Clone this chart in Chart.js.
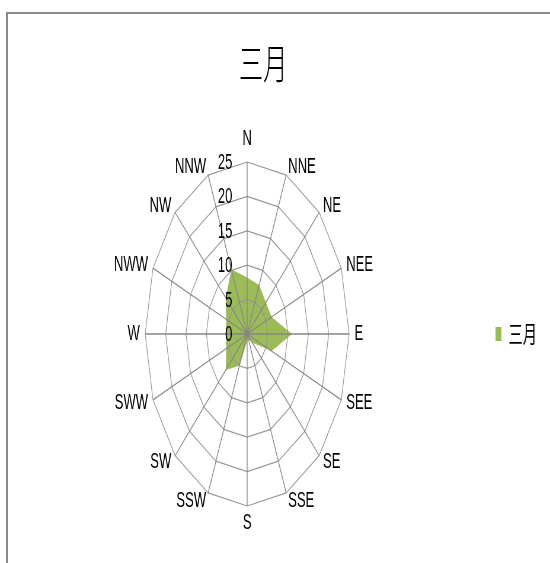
<!DOCTYPE html>
<html>
<head>
<meta charset="utf-8">
<script src="https://cdn.jsdelivr.net/npm/chart.js@4.4.1/dist/chart.umd.min.js"></script>
<style>
html, body { margin: 0; padding: 0; background: #fff; overflow: hidden; }
#frame { position: absolute; left: 6px; top: 12px; width: 700px; height: 700px;
  border-top: 2px solid #898989; border-left: 2px solid #898989; }
#wrap { position: absolute; left: 0; top: 0; width: 928px; height: 563px;
  transform: scaleX(0.59267); transform-origin: 0 0; }
</style>
</head>
<body>
<div id="frame"></div>
<div id="wrap"><canvas id="chart" width="928" height="563"></canvas></div>
<script>
// wind directions, clockwise from north
const directions = ["N","NNE","NE","NEE","E","SEE","SE","SSE","S","SSW","SW","SWW","W","NWW","NW","NNW"];
const marchValues = [8.2, 7.7, 6.5, 6.5, 11, 6.5, 1.8, 0.8, 1, 5, 7.4, 5.6, 5.2, 5.6, 7.4, 10.2];
const tickValues = [0, 5, 10, 15, 20, 25];
const seriesName = "三月";

const labelFont = '22px "Liberation Sans", Arial, sans-serif';

// title is drawn by hand so it can sit a bit right of the plot centre, like the original
const chartTitle = {
  id: "chartTitle",
  afterDraw(chart) {
    const ctx = chart.ctx;
    ctx.save();
    ctx.font = '300 41px "Noto Sans CJK SC"';
    ctx.fillStyle = "#000";
    ctx.textAlign = "center";
    ctx.textBaseline = "middle";
    ctx.fillText(seriesName, 444, 63);
    ctx.restore();
  }
};

// radial tick numbers left of the north axis, direction names centred on their spoke (Excel style)
const axisText = {
  id: "axisText",
  afterDraw(chart) {
    const r = chart.scales.r;
    const ctx = chart.ctx;
    ctx.save();
    ctx.font = labelFont;
    ctx.fillStyle = "#000";
    ctx.textAlign = "right";
    ctx.textBaseline = "middle";
    tickValues.forEach(v => {
      ctx.fillText(String(v), r.xCenter - 25, r.yCenter - r.getDistanceFromCenterForValue(v) + 1);
    });
    const outer = r.getDistanceFromCenterForValue(25);
    directions.forEach((name, i) => {
      const deg = i * 360 / directions.length;
      let pad = 9;
      if (deg === 0) { ctx.textAlign = "center"; ctx.textBaseline = "bottom"; pad = 12; }
      else if (deg === 180) { ctx.textAlign = "center"; ctx.textBaseline = "top"; pad = 6; }
      else { ctx.textAlign = deg < 180 ? "left" : "right"; ctx.textBaseline = "middle"; }
      const p = r.getPointPosition(i, outer + pad);
      ctx.fillText(name, p.x, p.y);
    });
    ctx.restore();
  }
};

new Chart(document.getElementById("chart"), {
  type: "radar",
  data: {
    labels: directions,
    datasets: [{
      label: seriesName,
      data: marchValues,
      backgroundColor: "#9bbb59",
      borderColor: "#9bbb59",
      borderWidth: 0,
      pointRadius: 0,
      pointHoverRadius: 0,
      fill: true
    }]
  },
  options: {
    responsive: false,
    animation: false,
    layout: { padding: { left: 9, right: 12, top: 162, bottom: 57 } },
    plugins: {
      title: { display: false },
      legend: {
        position: "right",
        labels: {
          color: "#000",
          boxWidth: 10,
          boxHeight: 14,
          font: { family: '"Noto Sans CJK SC"', size: 24 }
        }
      },
      tooltip: { enabled: false }
    },
    scales: {
      r: {
        min: 0,
        max: 25,
        ticks: { stepSize: 5, display: false },
        grid: { color: "#969696", lineWidth: 1.2, z: 1 },
        angleLines: { color: "#858585", lineWidth: 1.3 },
        pointLabels: { display: false }
      }
    }
  },
  plugins: [chartTitle, axisText]
});
</script>
</body>
</html>
